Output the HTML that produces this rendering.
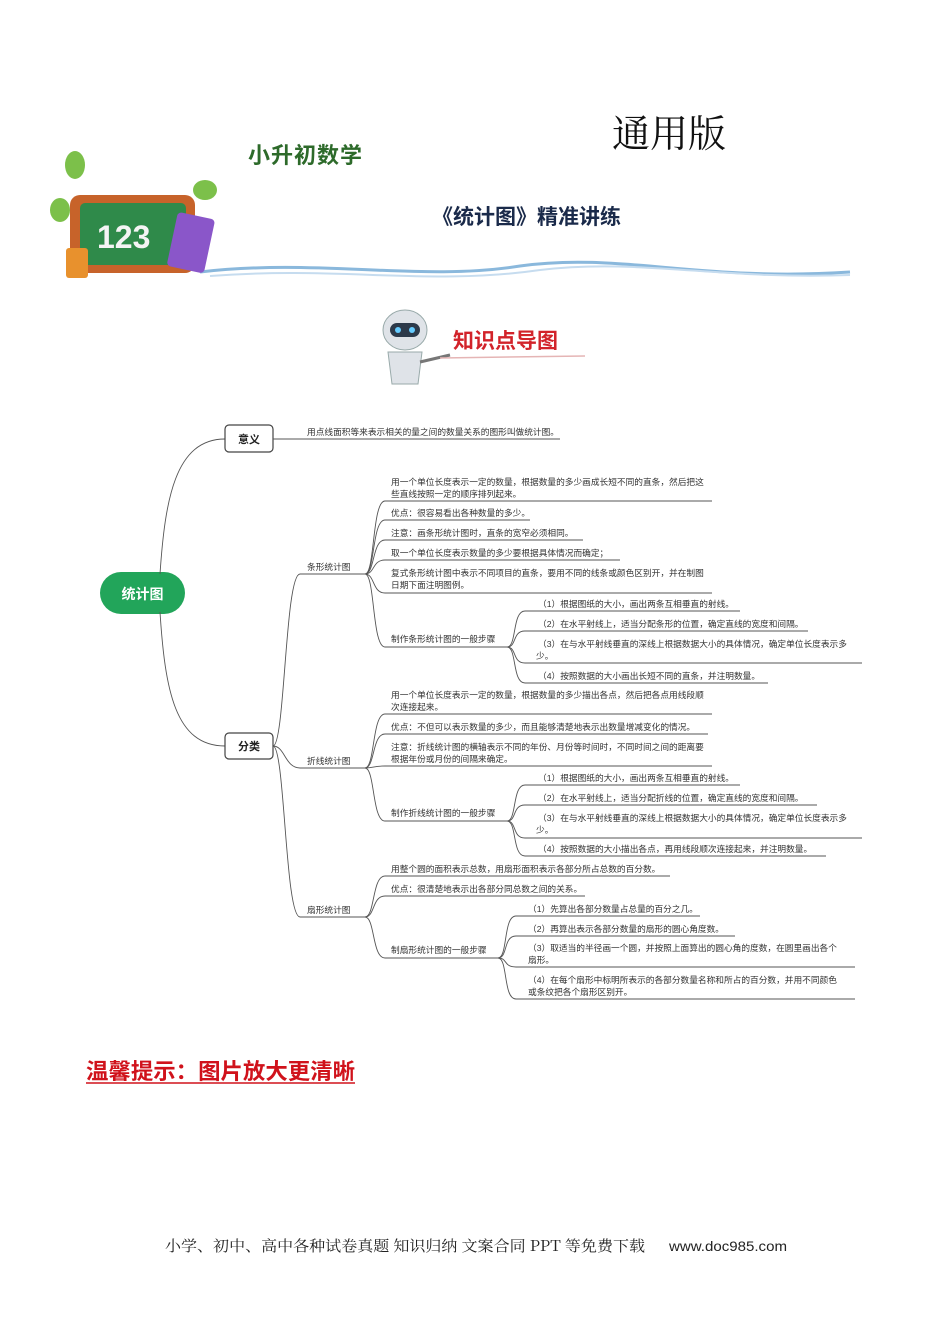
<!DOCTYPE html>
<html><head><meta charset="utf-8"><style>
body{margin:0;background:#fff;width:950px;height:1344px;overflow:hidden}
svg{display:block}
.t{font-family:"Liberation Sans","Noto Sans CJK SC",sans-serif;font-size:8.7px;fill:#333}
.l{stroke:#555;stroke-width:0.9;fill:none}
</style></head><body>
<svg width="950" height="1344" viewBox="0 0 950 1344" xmlns="http://www.w3.org/2000/svg">
<text x="612" y="147" font-family="'Noto Serif CJK SC',serif" font-size="38" fill="#111">通用版</text>
<text x="248" y="163" font-family="'Noto Sans CJK SC',sans-serif" font-weight="bold" font-size="22" fill="#2d6a2a" letter-spacing="1">小升初数学</text>
<text x="432" y="224" font-family="'Noto Sans CJK SC',sans-serif" font-weight="bold" font-size="21" fill="#1a2a4a">《统计图》精准讲练</text>
<path d="M200 272 C320 258 420 282 520 266 C620 252 700 282 850 272" stroke="#8ab8dc" stroke-width="3" fill="none"/>
<path d="M210 276 C340 266 430 286 540 270 C640 258 720 280 850 275" stroke="#c6dcef" stroke-width="2" fill="none"/>
<ellipse cx="75" cy="165" rx="10" ry="14" fill="#7cc04a"/>
<ellipse cx="205" cy="190" rx="12" ry="10" fill="#7cc04a"/>
<ellipse cx="60" cy="210" rx="10" ry="12" fill="#7cc04a"/>
<rect x="70" y="195" width="125" height="78" rx="10" fill="#c7632a"/>
<rect x="80" y="203" width="106" height="62" rx="5" fill="#2f8a4a"/>
<text x="97" y="248" font-family="'Liberation Sans',sans-serif" font-weight="bold" font-size="32" fill="#f4f4f4">123</text>
<rect x="172" y="215" width="38" height="55" rx="4" fill="#8a56c9" transform="rotate(12 190 242)"/>
<rect x="66" y="248" width="22" height="30" rx="3" fill="#e8912d"/>
<ellipse cx="405" cy="330" rx="22" ry="20" fill="#dfe3e8" stroke="#9aa" />
<rect x="390" y="323" width="30" height="14" rx="7" fill="#2d3a4a"/>
<circle cx="398" cy="330" r="3" fill="#6cf"/><circle cx="412" cy="330" r="3" fill="#6cf"/>
<path d="M388 352 L422 352 L418 384 L392 384 Z" fill="#dfe3e8" stroke="#9aa"/>
<path d="M420 362 L450 355" stroke="#777" stroke-width="3"/>
<text x="453" y="348" font-family="'Noto Sans CJK SC',sans-serif" font-weight="bold" font-size="21" fill="#d2232a">知识点导图</text>
<path d="M440 358 L585 356" stroke="#e5b5b5" stroke-width="1.5"/>

<rect x="100" y="572" width="85" height="42" rx="21" fill="#22a55a"/>
<text x="142.5" y="599" text-anchor="middle" font-family="'Noto Sans CJK SC',sans-serif" font-weight="bold" font-size="14" fill="#fff">统计图</text>
<path class="l" d="M160 574 C165 500 175 439 225 439" stroke-width="1.2"/>
<path class="l" d="M160 612 C165 690 175 746 225 746" stroke-width="1.2"/>
<rect x="225" y="425" width="48" height="27" rx="4" fill="#fff" stroke="#444" stroke-width="1.2"/>
<text x="249" y="443" text-anchor="middle" font-family="'Noto Sans CJK SC',sans-serif" font-weight="bold" font-size="11" fill="#222">意义</text>
<rect x="225" y="733" width="48" height="26" rx="4" fill="#fff" stroke="#444" stroke-width="1.2"/>
<text x="249" y="750" text-anchor="middle" font-family="'Noto Sans CJK SC',sans-serif" font-weight="bold" font-size="11" fill="#222">分类</text>
<path class="l" d="M273 439 L560 439"/>
<text class="t" x="307" y="435">用点线面积等来表示相关的量之间的数量关系的图形叫做统计图。</text>

<path class="l" d="M273 746 C285 746 285 574 300 574 L365 574"/>
<path class="l" d="M273 746 C285 746 285 768 300 768 L365 768"/>
<path class="l" d="M273 746 C285 746 285 917 300 917 L365 917"/>
<text class="t" x="307" y="570">条形统计图</text>
<text class="t" x="307" y="764">折线统计图</text>
<text class="t" x="307" y="913">扇形统计图</text>

<g>
<path class="l" d="M365 574 C375 574 372 501 385 501 L712 501"/>
<path class="l" d="M365 574 C375 574 372 520 385 520 L530 520"/>
<path class="l" d="M365 574 C375 574 372 540 385 540 L583 540"/>
<path class="l" d="M365 574 C375 574 372 560 385 560 L620 560"/>
<path class="l" d="M365 574 C375 574 372 593 385 593 L712 593"/>
<path class="l" d="M365 574 C375 574 372 647 385 647 L507 647"/>
<text class="t" x="391" y="485">用一个单位长度表示一定的数量，根据数量的多少画成长短不同的直条，然后把这</text>
<text class="t" x="391" y="497">些直线按照一定的顺序排列起来。</text>
<text class="t" x="391" y="516">优点：很容易看出各种数量的多少。</text>
<text class="t" x="391" y="536">注意：画条形统计图时，直条的宽窄必须相同。</text>
<text class="t" x="391" y="556">取一个单位长度表示数量的多少要根据具体情况而确定；</text>
<text class="t" x="391" y="576">复式条形统计图中表示不同项目的直条，要用不同的线条或颜色区别开，并在制图</text>
<text class="t" x="391" y="588">日期下面注明图例。</text>
<text class="t" x="391" y="642">制作条形统计图的一般步骤</text>
<path class="l" d="M507 647 C517 647 512 611 525 611 L740 611"/>
<path class="l" d="M507 647 C517 647 512 631 525 631 L808 631"/>
<path class="l" d="M507 647 C517 647 512 663 525 663 L862 663"/>
<path class="l" d="M507 647 C517 647 512 683 525 683 L768 683"/>
<text class="t" x="538" y="607">（1）根据图纸的大小，画出两条互相垂直的射线。</text>
<text class="t" x="538" y="627">（2）在水平射线上，适当分配条形的位置，确定直线的宽度和间隔。</text>
<text class="t" x="538" y="647">（3）在与水平射线垂直的深线上根据数据大小的具体情况，确定单位长度表示多</text>
<text class="t" x="536" y="659">少。</text>
<text class="t" x="538" y="679">（4）按照数据的大小画出长短不同的直条，并注明数量。</text>
</g>

<g>
<path class="l" d="M365 768 C375 768 372 714 385 714 L712 714"/>
<path class="l" d="M365 768 C375 768 372 734 385 734 L708 734"/>
<path class="l" d="M365 768 C375 768 372 766 385 766 L712 766"/>
<path class="l" d="M365 768 C375 768 372 821 385 821 L507 821"/>
<text class="t" x="391" y="698">用一个单位长度表示一定的数量，根据数量的多少描出各点，然后把各点用线段顺</text>
<text class="t" x="391" y="710">次连接起来。</text>
<text class="t" x="391" y="730">优点：不但可以表示数量的多少，而且能够清楚地表示出数量增减变化的情况。</text>
<text class="t" x="391" y="750">注意：折线统计图的横轴表示不同的年份、月份等时间时，不同时间之间的距离要</text>
<text class="t" x="391" y="762">根据年份或月份的间隔来确定。</text>
<text class="t" x="391" y="816">制作折线统计图的一般步骤</text>
<path class="l" d="M507 821 C517 821 512 785 525 785 L740 785"/>
<path class="l" d="M507 821 C517 821 512 805 525 805 L817 805"/>
<path class="l" d="M507 821 C517 821 512 838 525 838 L862 838"/>
<path class="l" d="M507 821 C517 821 512 856 525 856 L826 856"/>
<text class="t" x="538" y="781">（1）根据图纸的大小，画出两条互相垂直的射线。</text>
<text class="t" x="538" y="801">（2）在水平射线上，适当分配折线的位置，确定直线的宽度和间隔。</text>
<text class="t" x="538" y="821">（3）在与水平射线垂直的深线上根据数据大小的具体情况，确定单位长度表示多</text>
<text class="t" x="536" y="833">少。</text>
<text class="t" x="538" y="852">（4）按照数据的大小描出各点，再用线段顺次连接起来，并注明数量。</text>
</g>

<g>
<path class="l" d="M365 917 C375 917 372 876 385 876 L670 876"/>
<path class="l" d="M365 917 C375 917 372 896 385 896 L585 896"/>
<path class="l" d="M365 917 C375 917 372 958 385 958 L498 958"/>
<text class="t" x="391" y="872">用整个圆的面积表示总数，用扇形面积表示各部分所占总数的百分数。</text>
<text class="t" x="391" y="892">优点：很清楚地表示出各部分同总数之间的关系。</text>
<text class="t" x="391" y="953">制扇形统计图的一般步骤</text>
<path class="l" d="M498 958 C508 958 503 916 516 916 L700 916"/>
<path class="l" d="M498 958 C508 958 503 936 516 936 L735 936"/>
<path class="l" d="M498 958 C508 958 503 967 516 967 L855 967"/>
<path class="l" d="M498 958 C508 958 503 999 516 999 L855 999"/>
<text class="t" x="528" y="912">（1）先算出各部分数量占总量的百分之几。</text>
<text class="t" x="528" y="932">（2）再算出表示各部分数量的扇形的圆心角度数。</text>
<text class="t" x="528" y="951">（3）取适当的半径画一个圆，并按照上面算出的圆心角的度数，在圆里画出各个</text>
<text class="t" x="528" y="963">扇形。</text>
<text class="t" x="528" y="983">（4）在每个扇形中标明所表示的各部分数量名称和所占的百分数，并用不同颜色</text>
<text class="t" x="528" y="995">或条纹把各个扇形区别开。</text>
</g>

<text x="86" y="1079" font-family="'Noto Sans CJK SC',sans-serif" font-weight="bold" font-size="22" fill="#d0121b" textLength="269" lengthAdjust="spacingAndGlyphs">温馨提示：图片放大更清晰</text>
<line x1="86" y1="1083" x2="355" y2="1083" stroke="#d0121b" stroke-width="1.5"/>
<text x="165" y="1251" font-family="'Noto Serif CJK SC',serif" font-size="15" fill="#222" textLength="480" lengthAdjust="spacingAndGlyphs">小学、初中、高中各种试卷真题 知识归纳 文案合同 PPT 等免费下载</text>
<text x="669" y="1251" font-family="'Liberation Sans',sans-serif" font-size="14" fill="#222" textLength="118" lengthAdjust="spacingAndGlyphs">www.doc985.com</text>
</svg>
</body></html>
